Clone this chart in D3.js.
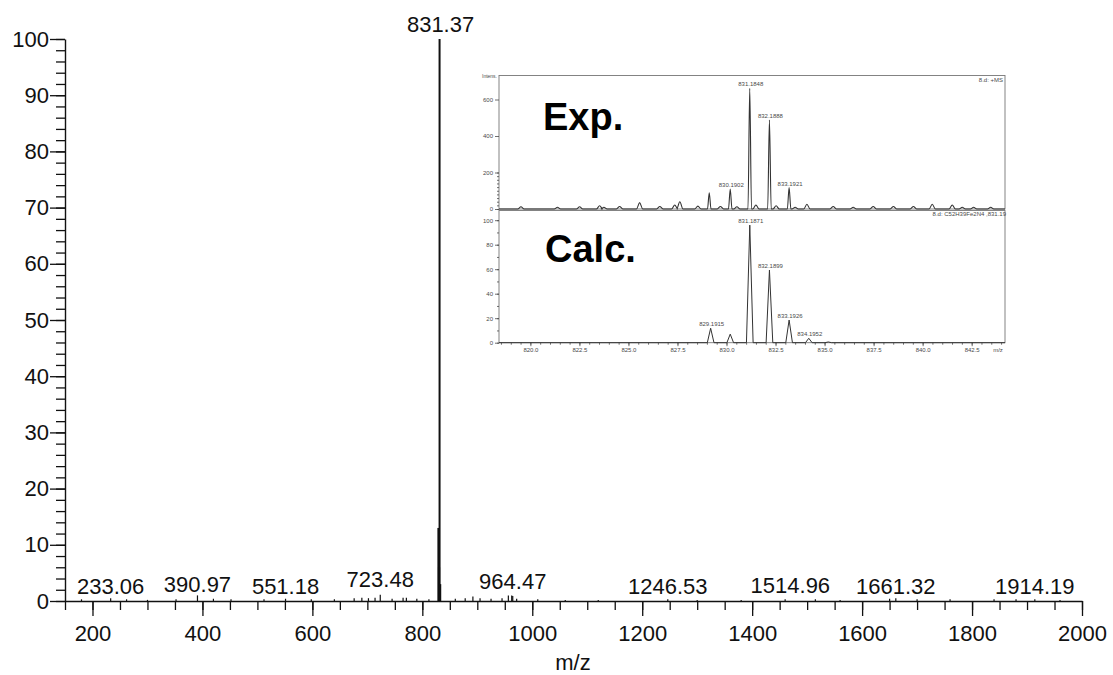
<!DOCTYPE html>
<html>
<head>
<meta charset="utf-8">
<script src="https://cdn.jsdelivr.net/npm/d3@7"></script>
<style>
  body { margin: 0; background: #fff; }
  svg { display: block; }
  text { font-family: "Liberation Sans", Arial, Helvetica, sans-serif; }
</style>
</head>
<body>
<svg id="chart" width="1113" height="675"></svg>
<script>
// ---------- Full-range MS spectrum (m/z, relative intensity %) ----------
const labelledPeaks = [
  [233.06, 0.5], [390.97, 1.0], [551.18, 0.4], [723.48, 1.1], [831.37, 100],
  [964.47, 0.9], [1246.53, 0.3], [1514.96, 0.3], [1661.32, 0.5], [1914.19, 0.3]
];
const minorPeaks = [
  [180, 0.3], [262, 0.3], [300, 0.2], [352, 0.3], [420, 0.4], [452, 0.3],
  [512, 0.3], [598, 0.3], [640, 0.3], [676, 0.5], [690, 0.6], [702, 0.5],
  [714, 0.6], [745, 0.4], [765, 0.6], [771, 0.6], [790, 0.4], [812, 0.3],
  [829.4, 13], [830.4, 6], [832.4, 3], [860, 0.4], [878, 0.5], [892, 0.8],
  [905, 0.5], [925, 0.4], [945, 0.5], [956.5, 1.0], [962.6, 1.0], [971.6, 0.4],
  [1010, 0.3], [1060, 0.2], [1120, 0.2], [1300, 0.2], [1380, 0.2], [1460, 0.3],
  [1560, 0.2], [1650, 0.4], [1700, 0.3], [1760, 0.3], [1840, 0.3], [1880, 0.3], [1960, 0.2]
];
const mainXTicks = [200, 400, 600, 800, 1000, 1200, 1400, 1600, 1800, 2000];
const mainYTicks = [0, 10, 20, 30, 40, 50, 60, 70, 80, 90, 100];

// ---------- Inset: isotope pattern of the molecular ion ----------
const expPeaks = [
  [819.52, 12], [821.38, 10], [822.51, 12], [823.53, 18], [823.75, 10], [824.55, 14],
  [825.57, 35], [826.60, 14], [827.36, 22], [827.62, 40], [828.54, 16], [829.12, 89],
  [829.69, 14], [830.1902, 110], [830.53, 12], [831.1848, 661], [831.50, 22],
  [832.1888, 488], [832.53, 18], [833.1921, 117], [833.50, 10], [834.10, 26],
  [835.44, 14], [836.46, 10], [837.48, 14], [838.51, 14], [839.53, 14], [840.49, 26],
  [841.51, 22], [842.02, 10], [842.60, 10], [843.47, 10]
];
const expLabels = [830.1902, 831.1848, 832.1888, 833.1921];
const calcPeaks = [
  [829.1915, 11.8], [830.19, 7], [831.1871, 96], [832.1899, 59.3],
  [833.1926, 18.5], [834.1952, 3.6], [835.19, 0.6]
];
const calcLabels = [829.1915, 831.1871, 832.1899, 833.1926, 834.1952];
const insetXTicks = [820.0, 822.5, 825.0, 827.5, 830.0, 832.5, 835.0, 837.5, 840.0, 842.5];
const expYTicks = [0, 200, 400, 600];
const calcYTicks = [0, 20, 40, 60, 80, 100];

const svg = d3.select("#chart");
const ink = "#111";

// ---------- main scales & axes ----------
const x = d3.scaleLinear().domain([150, 2000]).range([65, 1082]);
const y = d3.scaleLinear().domain([0, 100]).range([601, 39]);

const gMain = svg.append("g");

function styleAxis(g, fs) {
  g.selectAll("path.domain").attr("stroke", ink).attr("stroke-width", 1.4);
  g.selectAll(".tick line").attr("stroke", ink).attr("stroke-width", 1.3);
  g.selectAll(".tick text").attr("fill", ink).style("font-size", fs + "px")
    .style("font-family", '"Liberation Sans", Arial, sans-serif');
}

// minor ticks
gMain.append("g").attr("transform", "translate(65,0)")
  .call(d3.axisLeft(y).tickValues(y.ticks(50)).tickSize(9).tickFormat(""))
  .call(g => g.select(".domain").remove())
  .call(g => styleAxis(g, 22));
gMain.append("g").attr("transform", "translate(0,601)")
  .call(d3.axisBottom(x).tickValues(d3.range(150, 2001, 50)).tickSize(9).tickFormat(""))
  .call(g => g.select(".domain").remove())
  .call(g => styleAxis(g, 22));

// major ticks
gMain.append("g").attr("transform", "translate(65,0)")
  .call(d3.axisLeft(y).tickValues(mainYTicks).tickSize(15).tickSizeOuter(0).tickPadding(1)
    .tickFormat(d3.format("d")))
  .call(g => styleAxis(g, 22));
gMain.append("g").attr("transform", "translate(0,601)")
  .call(d3.axisBottom(x).tickValues(mainXTicks).tickSize(15).tickSizeOuter(0).tickPadding(9)
    .tickFormat(d3.format("d")))
  .call(g => styleAxis(g, 22));

gMain.append("text").attr("x", 573).attr("y", 670).attr("text-anchor", "middle")
  .attr("fill", ink).style("font-size", "22px").text("m/z");

// spectrum sticks
const allPeaks = minorPeaks.concat(labelledPeaks);
gMain.append("g").selectAll("line").data(allPeaks).join("line")
  .attr("x1", d => x(d[0])).attr("x2", d => x(d[0]))
  .attr("y1", y(0)).attr("y2", d => y(d[1]))
  .attr("stroke", ink)
  .attr("stroke-width", d => d[1] >= 50 ? 2 : (d[1] > 2 ? 2.2 : 1.2));

// peak labels
const labelShift = {
  "390.97": [0, -2], "723.48": [0, -7], "964.47": [0, -5],
  "1514.96": [-25, -1], "831.37": [1, 0]
};
gMain.append("g").selectAll("text").data(labelledPeaks).join("text")
  .attr("x", d => x(d[0]) + (labelShift[d[0].toFixed(2)] || [0, 0])[0])
  .attr("y", d => (d[1] >= 50 ? y(d[1]) - 7 : 594) + (labelShift[d[0].toFixed(2)] || [0, 0])[1])
  .attr("text-anchor", "middle").attr("fill", ink).style("font-size", "22px")
  .text(d => d[0].toFixed(2));

// ---------- inset ----------
const gray = "#4a4a4a";
const xi = d3.scaleLinear().domain([818.4, 844.2]).range([499, 1005]);
const yTop = d3.scaleLinear().domain([0, 200]).range([209, 172.5]);
const yBot = d3.scaleLinear().domain([0, 100]).range([342.7, 220.2]);
const gIn = svg.append("g");

// frames
gIn.append("rect").attr("x", 499).attr("y", 75.5).attr("width", 506).attr("height", 133.5)
  .attr("fill", "none").attr("stroke", "#777").attr("stroke-width", 0.9);
gIn.append("rect").attr("x", 499).attr("y", 210.5).attr("width", 506).attr("height", 132.2)
  .attr("fill", "none").attr("stroke", "#777").attr("stroke-width", 0.9);

function styleSmall(g) {
  g.selectAll("path.domain").remove();
  g.selectAll(".tick line").attr("stroke", gray).attr("stroke-width", 0.8);
  g.selectAll(".tick text").attr("fill", gray).style("font-size", "6px")
    .style("font-family", '"Liberation Sans", Arial, sans-serif');
}
gIn.append("g").attr("transform", "translate(499,0)")
  .call(d3.axisLeft(yTop).tickValues(yTop.ticks(7).filter(v => v <= 700)).tickSize(2).tickFormat(""))
  .call(styleSmall);
gIn.append("g").attr("transform", "translate(499,0)")
  .call(d3.axisLeft(yTop).tickValues(expYTicks).tickSize(4).tickPadding(2))
  .call(styleSmall);
gIn.append("g").attr("transform", "translate(499,0)")
  .call(d3.axisLeft(yBot).tickValues(yBot.ticks(10)).tickSize(2).tickFormat(""))
  .call(styleSmall);
gIn.append("g").attr("transform", "translate(499,0)")
  .call(d3.axisLeft(yBot).tickValues(calcYTicks).tickSize(4).tickPadding(2))
  .call(styleSmall);
gIn.append("g").attr("transform", "translate(0,342.7)")
  .call(d3.axisBottom(xi).tickValues(d3.range(818.5, 844.1, 0.5)).tickSize(2).tickFormat(""))
  .call(styleSmall);
gIn.append("g").attr("transform", "translate(0,342.7)")
  .call(d3.axisBottom(xi).tickValues(insetXTicks).tickSize(3.5).tickPadding(2).tickFormat(d3.format(".1f")))
  .call(styleSmall);

// profile path from a stick list: each peak drawn as a narrow triangle,
// low-level noise bumps drawn broader so the baseline reads as a ripple
function profile(peaks, narrow, broad, cut) {
  const pts = [[818.4, 0]];
  peaks.slice().sort((a, b) => a[0] - b[0]).forEach(([m, h]) => {
    const w = h < cut ? broad : narrow;
    pts.push([m - w, 0], [m, h], [m + w, 0]);
  });
  pts.push([844.2, 0]);
  return pts;
}
gIn.append("path")
  .datum(profile(expPeaks, 0.09, 0.16, 50))
  .attr("d", d3.line().x(d => xi(d[0])).y(d => yTop(d[1])).curve(d3.curveMonotoneX))
  .attr("fill", "none").attr("stroke", "#333").attr("stroke-width", 1.1);
gIn.append("path")
  .datum(profile(calcPeaks, 0.17, 0.17, 0))
  .attr("d", d3.line().x(d => xi(d[0])).y(d => yBot(d[1])))
  .attr("fill", "none").attr("stroke", "#333").attr("stroke-width", 1);

const expMap = new Map(expPeaks.map(d => [d[0], d[1]]));
gIn.append("g").selectAll("text").data(expLabels).join("text")
  .attr("x", d => xi(d) + 1).attr("y", d => yTop(expMap.get(d)) - 2)
  .attr("text-anchor", "middle").attr("fill", gray).style("font-size", "6px")
  .text(d => d.toFixed(4));
const calcMap = new Map(calcPeaks.map(d => [d[0], d[1]]));
gIn.append("g").selectAll("text").data(calcLabels).join("text")
  .attr("x", d => xi(d) + 1).attr("y", d => yBot(calcMap.get(d)) - 2)
  .attr("text-anchor", "middle").attr("fill", gray).style("font-size", "6px")
  .text(d => d.toFixed(4));

gIn.append("text").attr("x", 482).attr("y", 77.5).attr("fill", gray)
  .style("font-size", "5px").text("Intens.");
gIn.append("text").attr("x", 1003).attr("y", 82).attr("text-anchor", "end").attr("fill", gray)
  .style("font-size", "6px").text("8.d: +MS");
gIn.append("text").attr("x", 1006).attr("y", 215.5).attr("text-anchor", "end").attr("fill", gray)
  .style("font-size", "6px").text("8.d: C52H39Fe2N4 ,831.19");
gIn.append("text").attr("x", 998).attr("y", 352).attr("text-anchor", "middle").attr("fill", gray)
  .style("font-size", "6px").text("m/z");

gIn.append("text").attr("x", 543).attr("y", 130).attr("fill", "#000")
  .style("font-size", "38px").style("font-weight", "bold").text("Exp.");
gIn.append("text").attr("x", 545).attr("y", 262).attr("fill", "#000")
  .style("font-size", "38px").style("font-weight", "bold").text("Calc.");
</script>
</body>
</html>
